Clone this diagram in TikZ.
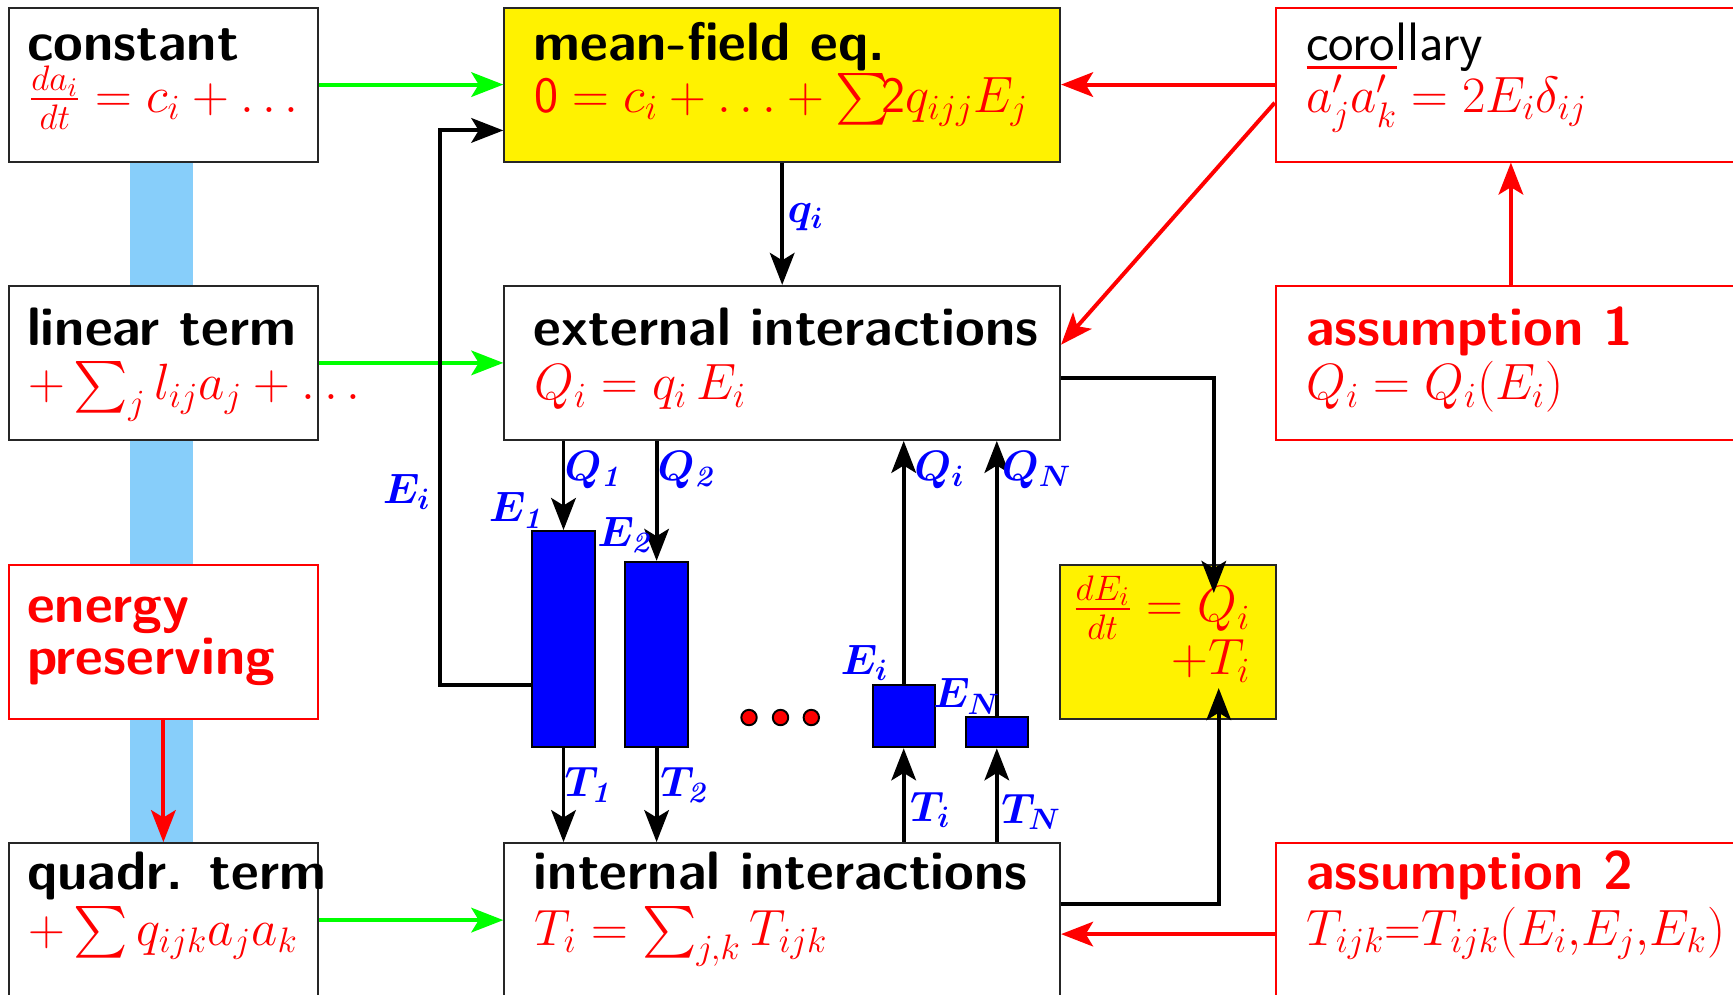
\documentclass[tikz,border=0pt]{standalone}
\usepackage{amsmath}
\usepackage{amssymb}
\usepackage{tikz}
\usetikzlibrary{
    arrows.meta,
    positioning
}
\definecolor{bandblue}{RGB}{135,206,250}
\newcommand{\bigfont}{\fontsize{21}{25}\selectfont}
\newcommand{\ttlfont}{\fontsize{22}{26}\selectfont}
\newcommand{\labfont}{\fontsize{17}{20}\selectfont}
\tikzset{
    box/.style={draw=black!85, line width=0.8pt, fill=white, anchor=north west,
        inner sep=0pt, minimum height=2.2cm},
    lbox/.style={box, minimum width=4.42cm},
    mbox/.style={box, minimum width=7.94cm},
    rbox/.style={box, draw=red, minimum width=6.72cm},
    ttl/.style={anchor=base west, inner sep=0pt, font=\ttlfont\sffamily\bfseries},
    frm/.style={anchor=base west, inner sep=0pt, text=red, font=\bigfont},
    lab/.style={inner sep=0pt, text=blue, font=\labfont\boldmath},
    ebar/.style={draw, line width=0.8pt, fill=blue, anchor=south,
        minimum width=0.89cm, inner sep=0pt},
    arr/.style={-{Stealth[length=13pt, width=10pt, inset=3pt]}, line width=1.6pt},
    blk/.style={arr, black},
    grn/.style={arr, green},
    rd/.style={arr, red}
}

\begin{document}
\begin{tikzpicture}
    \useasboundingbox (0,0) rectangle (24.757,-14.214);

    % band behind the left column
    \fill[bandblue] (1.86,-2.2) rectangle (2.76,-12.1);

    % left column
    \node[lbox] (const) at (0.11,-0.094) {};
    \node[lbox] (lin) at (0.11,-4.07) {};
    \node[lbox, draw=red] (energy) at (0.11,-8.06) {};
    \node[lbox] (quadr) at (0.11,-12.03) {};

    % middle column
    \node[mbox, fill=yellow] (mf) at (7.19,-0.094) {};
    \node[mbox] (ext) at (7.19,-4.07) {};
    \node[mbox] (int) at (7.19,-12.03) {};
    \node[box, fill=yellow, minimum width=3.08cm] (dE) at (15.13,-8.06) {};

    % right column
    \node[rbox] (coro) at (18.21,-0.094) {};
    \node[rbox] (ass1) at (18.21,-4.07) {};
    \node[rbox] (ass2) at (18.21,-12.03) {};

    % texts
    \node[ttl] (constT) at (0.38,-0.87) {constant};
    \node[frm] (constF) at (0.40,-1.60) {$\frac{da_i}{dt}=c_i+\ldots$};
    \node[ttl] (mfT) at (7.62,-0.87) {mean-field eq.};
    \node[frm] (mfF) at (7.63,-1.60) {$\mathsf{0}=c_i+\ldots+\sum\!\!\mathsf{2}q_{ijj}E_j$};
    \node[ttl, font=\ttlfont\sffamily] (coroT) at (18.65,-0.87) {corollary};
    \node[frm] (coroF) at (18.66,-1.60) {$\overline{a'_ja'_k}=2E_i\delta_{ij}$};

    \node[ttl] (linT) at (0.38,-4.94) {linear term};
    \node[frm] (linF) at (0.40,-5.71) {$+\sum_j l_{ij}a_j+\ldots$};
    \node[ttl] (extT) at (7.62,-4.94) {external interactions};
    \node[frm] (extF) at (7.63,-5.71) {$Q_i=q_i\,E_i$};
    \node[ttl, text=red] (ass1T) at (18.65,-4.94) {assumption 1};
    \node[frm] (ass1F) at (18.66,-5.71) {$Q_i=Q_i(E_i)$};

    \node[ttl, text=red] (energyT) at (0.38,-8.89) {energy};
    \node[ttl, text=red] (energyT2) at (0.38,-9.64) {preserving};
    \node[frm, anchor=base east] (dEF) at (17.87,-8.88) {$\frac{dE_i}{dt}=Q_i$};
    \node[frm, anchor=base east] (dEF2) at (17.87,-9.64) {$+T_i$};

    \node[ttl] (quadrT) at (0.38,-12.71) {quadr. term};
    \node[frm] (quadrF) at (0.40,-13.50) {$+\sum q_{ijk}a_ja_k$};
    \node[ttl] (intT) at (7.62,-12.71) {internal interactions};
    \node[frm] (intF) at (7.63,-13.50) {$T_i=\sum_{j,k}T_{ijk}$};
    \node[ttl, text=red] (ass2T) at (18.65,-12.71) {assumption 2};
    \node[frm] (ass2F) at (18.66,-13.50) {$T_{ijk}{=}T_{ijk}(E_i{,}E_j{,}E_k)$};

    % energy bars
    \node[ebar, minimum height=3.09cm] (E1) at (8.05,-10.69) {};
    \node[ebar, minimum height=2.65cm] (E2) at (9.38,-10.69) {};
    \node[ebar, minimum height=0.89cm] (Ei) at (12.91,-10.69) {};
    \node[ebar, minimum height=0.44cm] (EN) at (14.24,-10.69) {};
    \foreach \x in {10.70,11.15,11.59}
        \filldraw[fill=red, draw=black, line width=0.8pt] (\x,-10.25) circle (0.11);

    % connectors
    \draw[grn] (const) -- (mf);
    \draw[grn] (lin) -- (ext);
    \draw[grn] (quadr) -- (int);
    \draw[rd] (coro) -- (mf);
    \draw[rd] ([yshift=-0.26cm]coro.west) -- ([yshift=0.26cm]ext.east);
    \draw[rd] (ass1) -- (coro);
    \draw[rd] ([yshift=-0.2cm]ass2.west) -- ([yshift=-0.2cm]int.east);
    \draw[rd] (energy) -- (quadr);
    \draw[blk] (mf) -- (ext);

    \coordinate (ret) at (6.28,-5.5);
    \coordinate (dEin) at (17.34,-8.47);
    \coordinate (dEout) at (17.41,-9.83);
    \draw[blk] ([yshift=-0.655cm]E1.west) -| (ret) |- ([yshift=-0.655cm]mf.west);
    \draw[blk] ([yshift=-0.21cm]ext.east) -| (dEin);
    \draw[blk] ([yshift=0.23cm]int.east) -| (dEout);

    \foreach \b in {E1,E2} {
        \draw[blk] (ext.south -| \b.north) -- (\b.north);
        \draw[blk] (\b.south) -- (\b.south |- int.north);
    }
    \foreach \b in {Ei,EN} {
        \draw[blk] (\b.north) -- (\b.north |- ext.south);
        \draw[blk] (\b.south |- int.north) -- (\b.south);
    }

    % flow labels
    \node[lab] (lq) at (11.51,-3.10) {$q_i$};
    \node[lab] (lE) at (5.81,-7.03) {$E_i$};
    \node[lab] (lE1) at (7.39,-7.29) {$E_{\mathit 1}$};
    \node[lab] (lE2) at (8.94,-7.64) {$E_{\mathit 2}$};
    \node[lab] (lEi) at (12.35,-9.47) {$E_i$};
    \node[lab] (lEN) at (13.81,-9.95) {$E_N$};
    \node[lab] (lQ1) at (8.49,-6.71) {$Q_{\mathit 1}$};
    \node[lab] (lQ2) at (9.82,-6.71) {$Q_{\mathit 2}$};
    \node[lab] (lQi) at (13.42,-6.71) {$Q_i$};
    \node[lab] (lQN) at (14.81,-6.71) {$Q_N$};
    \node[lab] (lT1) at (8.42,-11.21) {$T_{\mathit 1}$};
    \node[lab] (lT2) at (9.79,-11.21) {$T_{\mathit 2}$};
    \node[lab] (lTi) at (13.29,-11.57) {$T_i$};
    \node[lab] (lTN) at (14.73,-11.60) {$T_N$};
\end{tikzpicture}
\end{document}
